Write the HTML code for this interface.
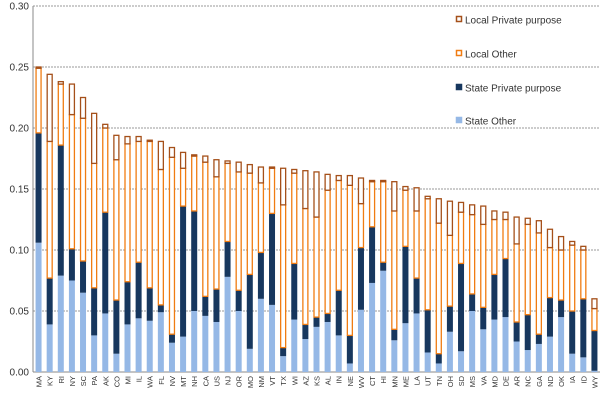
<!DOCTYPE html>
<html><head><meta charset="utf-8"><style>
html,body{margin:0;padding:0;background:#fff;}
svg{display:block;font-family:"Liberation Sans",sans-serif;}
</style></head><body>
<svg id="chart" width="600" height="400"></svg>
<script>
const states=["MA","KY","RI","NY","SC","PA","AK","CO","MI","IL","WA","FL","NV","MT","NH","CA","US","NJ","OR","MO","NM","VT","TX","WI","AZ","KS","AL","IN","NE","WV","CT","HI","MN","ME","LA","UT","TN","OH","SD","MS","VA","MD","DE","AR","NC","GA","ND","OK","IA","ID","WY"];
// cumulative tops
const stateOther=[0.106,0.039,0.079,0.075,0.065,0.030,0.048,0.015,0.039,0.044,0.042,0.049,0.024,0.029,0.050,0.046,0.041,0.078,0.050,0.019,0.060,0.055,0.013,0.043,0.027,0.037,0.041,0.030,0.007,0.051,0.073,0.083,0.026,0.040,0.048,0.016,0.007,0.033,0.017,0.050,0.035,0.043,0.045,0.025,0.018,0.023,0.029,0.045,0.015,0.012,0.001];
const statePrivTop=[0.196,0.077,0.186,0.101,0.091,0.069,0.131,0.059,0.074,0.090,0.069,0.055,0.031,0.136,0.132,0.062,0.068,0.107,0.067,0.080,0.098,0.130,0.020,0.089,0.039,0.045,0.048,0.067,0.030,0.102,0.119,0.090,0.035,0.103,0.077,0.051,0.015,0.054,0.089,0.064,0.053,0.080,0.093,0.041,0.047,0.031,0.061,0.059,0.050,0.060,0.034];
const localOtherTop=[0.249,0.189,0.236,0.211,0.208,0.171,0.200,0.174,0.187,0.189,0.189,0.166,0.176,0.167,0.177,0.172,0.160,0.171,0.164,0.163,0.155,0.167,0.137,0.163,0.134,0.127,0.149,0.157,0.153,0.138,0.156,0.156,0.132,0.149,0.132,0.142,0.122,0.112,0.131,0.129,0.121,0.125,0.125,0.105,0.121,0.114,0.102,0.100,0.104,0.100,0.052];
const totalTop=[0.250,0.244,0.238,0.236,0.225,0.212,0.203,0.194,0.193,0.193,0.190,0.189,0.184,0.180,0.178,0.177,0.174,0.173,0.172,0.170,0.168,0.168,0.167,0.166,0.165,0.164,0.162,0.161,0.161,0.159,0.157,0.157,0.156,0.152,0.151,0.144,0.142,0.140,0.139,0.137,0.136,0.132,0.131,0.127,0.126,0.124,0.117,0.111,0.107,0.103,0.060];
const yTicks=["0.00","0.05","0.10","0.15","0.20","0.25","0.30"];
const NS="http://www.w3.org/2000/svg";
const svg=document.getElementById("chart");
const x0=33,x1=600,y0=372,y1=6,ymax=0.30;
const band=(x1-x0)/states.length;
const yS=v=>y0-(v/ymax)*(y0-y1);
const xS=i=>x0+band*i+band/2;
function mk(t,a){const e=document.createElementNS(NS,t);for(const k in a)e.setAttribute(k,a[k]);svg.appendChild(e);return e;}
yTicks.forEach(t=>{const v=parseFloat(t),y=yS(v);
 if(v>0){const g=mk("line",{x1:x0,x2:x1,y1:y,y2:y,stroke:"#999","stroke-dasharray":"2,1"});
 
 }
 const tx=mk("text",{x:29,y:y+3.5,"text-anchor":"end","font-size":"10",fill:"#333"});tx.textContent=t;
 
 
});
const ax=mk("line",{x1:x0,x2:x0,y1:y1,y2:y0,stroke:"#888"});


const bx=mk("line",{x1:x0,x2:x1,y1:y0,y2:y0,stroke:"#888"});


const w=6;
states.forEach((s,i)=>{const cx=xS(i),l=cx-w/2;
 const r1=mk("rect",{x:l,y:yS(stateOther[i]),width:w,height:yS(0)-yS(stateOther[i]),fill:"#95b8e6"});
 
 
 const r2=mk("rect",{x:l,y:yS(statePrivTop[i]),width:w,height:yS(stateOther[i])-yS(statePrivTop[i]),fill:"#17375e"});
 
 
 const r3=mk("rect",{x:l+0.5,y:yS(localOtherTop[i]),width:w-1,height:Math.max(0,yS(statePrivTop[i])-yS(localOtherTop[i])),fill:"#fff",stroke:"#f07c12","stroke-width":1.3});
 
 
 const r4=mk("rect",{x:l+0.5,y:yS(totalTop[i]),width:w-1,height:Math.max(0,yS(localOtherTop[i])-yS(totalTop[i])),fill:"#fff",stroke:"#a5501a","stroke-width":1.3});
 
 
 const t=mk("text",{transform:`translate(${cx+3},${y0+4}) rotate(-90)`,"text-anchor":"end","font-size":"7.5",fill:"#333"});t.textContent=s;
 
 
});
const legend=[["Local Private purpose","#fff","#a5501a",20],["Local Other","#fff","#f07c12",54],["State Private purpose","#17375e","#17375e",88],["State Other","#95b8e6","#95b8e6",121]];
legend.forEach(([lab,f,s,y])=>{
 const r=mk("rect",{x:456.5,y:y-3.5,width:5,height:5,fill:f,stroke:s,"stroke-width":1.5});
 
 
 const t=mk("text",{x:465,y:y+3.5,"font-size":"10",fill:"#333"});t.textContent=lab;
 
 
});
</script>
</body></html>
